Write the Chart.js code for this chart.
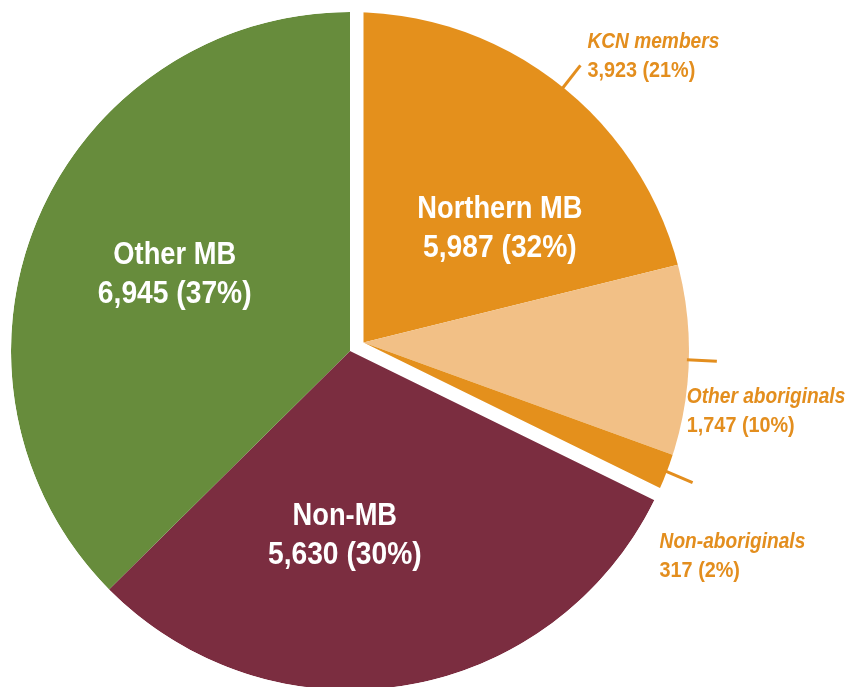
<!DOCTYPE html>
<html><head><meta charset="utf-8">
<script src="https://cdn.jsdelivr.net/npm/chart.js@4.4.1/dist/chart.umd.min.js"></script>
<style>html,body{margin:0;padding:0;background:#fff;overflow:hidden;width:851px;height:687px}canvas{display:block}</style>
</head><body>
<canvas id="c" width="851" height="702"></canvas>
<script>
// ---- data ----
const categories = ['KCN members', 'Other aboriginals', 'Non-aboriginals', 'Non-MB', 'Other MB'];
const values = [3923, 1747, 317, 5630, 6945];
const percentLabels = ['21%', '10%', '2%', '30%', '37%'];
const groupName = 'Northern MB';
const groupMembers = [0, 1, 2];
const groupPercent = '32%';
const groupValue = groupMembers.reduce((s, i) => s + values[i], 0);

// ---- styles / layout ----
const sliceColors = ['#E4901C', '#F2C086', '#E4901C', '#7B2D40', '#678C3C'];
const labelKind = ['outside', 'outside', 'outside', 'inside', 'inside'];
const GAP = 13.5;
const LEADER = 28;
const insideLayout = { 3: { frac: 0.6, r: 0.54 }, 4: { frac: 0.51, r: 0.566 }, group: { frac: 0.434, r: 0.574 } };
const outsideLayout = { 0: { dx: 7, dy: -17 }, 1: { dx: -30, dy: 42 }, 2: { dx: -33, dy: 65 } };
const FONT = '"Liberation Sans",Arial,sans-serif';
const outsideColor = '#E38E1E';

const fmt = v => v.toLocaleString('en-US');

function narrowText(ctx, str, x, y, sx) {
  ctx.save();
  ctx.translate(x, y);
  ctx.scale(sx, 1);
  ctx.fillText(str, 0, 0);
  ctx.restore();
}

function drawLabels(chart) {
  const ctx = chart.ctx, g = chart.$geo, els = chart.getDatasetMeta(0).data;
  ctx.save();
  const inside = (lines, ang, r) => {
    const x = g.cx + Math.cos(ang) * r, y = g.cy + Math.sin(ang) * r;
    ctx.fillStyle = '#fff';
    ctx.textAlign = 'center';
    ctx.textBaseline = 'alphabetic';
    ctx.font = 'bold 31px ' + FONT;
    narrowText(ctx, lines[0], x, y - 8.5, 0.88);
    narrowText(ctx, lines[1], x, y + 30.5, 0.91);
  };
  categories.forEach((c, i) => {
    if (labelKind[i] !== 'inside') return;
    const L = insideLayout[i], e = els[i];
    const ang = e.startAngle + L.frac * (e.endAngle - e.startAngle);
    inside([c, fmt(values[i]) + ' (' + percentLabels[i] + ')'], ang, L.r * g.R);
  });
  const G = insideLayout.group;
  inside([groupName, fmt(groupValue) + ' (' + groupPercent + ')'], g.a0 + G.frac * (g.a1 - g.a0), G.r * g.R);

  categories.forEach((c, i) => {
    if (labelKind[i] !== 'outside') return;
    const e = els[i], L = outsideLayout[i];
    const m = (e.startAngle + e.endAngle) / 2;
    const dx = Math.cos(m), dy = Math.sin(m);
    const inGroup = groupMembers.includes(i);
    const ax = inGroup ? g.cx + g.tx : g.cx, ay = inGroup ? g.cy + g.ty : g.cy;
    const wx = ax - g.cx, wy = ay - g.cy;
    const wd = wx * dx + wy * dy;
    const s = -wd + Math.sqrt(wd * wd - (wx * wx + wy * wy) + g.R * g.R);
    const sx = ax + dx * (s - 2), sy = ay + dy * (s - 2);
    const ex = ax + dx * (s + LEADER), ey = ay + dy * (s + LEADER);
    ctx.strokeStyle = outsideColor;
    ctx.lineWidth = 3;
    ctx.beginPath(); ctx.moveTo(sx, sy); ctx.lineTo(ex, ey); ctx.stroke();
    ctx.fillStyle = outsideColor;
    ctx.textAlign = 'left';
    ctx.textBaseline = 'alphabetic';
    ctx.font = 'italic bold 22px ' + FONT;
    narrowText(ctx, c, ex + L.dx, ey + L.dy, 0.87);
    ctx.font = 'bold 22px ' + FONT;
    narrowText(ctx, fmt(values[i]) + ' (' + percentLabels[i] + ')', ex + L.dx, ey + L.dy + 29, 0.9);
  });
  ctx.restore();
}

const explodePlugin = {
  id: 'explodeGroup',
  afterDatasetsUpdate(chart) {
    const els = chart.getDatasetMeta(0).data;
    const ref = els[0];
    const geo = { cx: ref.x, cy: ref.y, R: ref.outerRadius };
    const first = els[groupMembers[0]], last = els[groupMembers[groupMembers.length - 1]];
    const a0 = first.startAngle, a1 = last.endAngle;
    const half = (a1 - a0) / 2, mid = (a0 + a1) / 2;
    const mag = GAP / Math.sin(half);
    geo.tx = Math.cos(mid) * mag; geo.ty = Math.sin(mid) * mag;
    geo.a0 = a0; geo.a1 = a1;
    groupMembers.forEach(i => { const e = els[i]; e.x += geo.tx; e.y += geo.ty; e.outerRadius += 40; });
    chart.$geo = geo;
  },
  beforeDatasetsDraw(chart) {
    const g = chart.$geo, ctx = chart.ctx;
    ctx.save();
    ctx.beginPath(); ctx.arc(g.cx, g.cy, g.R, 0, Math.PI * 2); ctx.clip();
  },
  afterDatasetsDraw(chart) {
    chart.ctx.restore();
    drawLabels(chart);
  }
};

new Chart(document.getElementById('c'), {
  type: 'pie',
  data: {
    labels: categories,
    datasets: [{ data: values, backgroundColor: sliceColors, borderWidth: 0 }]
  },
  options: {
    responsive: false,
    animation: false,
    events: [],
    layout: { padding: { left: 11, right: 162, top: 12, bottom: 12 } },
    plugins: { legend: { display: false }, tooltip: { enabled: false } }
  },
  plugins: [explodePlugin]
});
</script>
</body></html>
